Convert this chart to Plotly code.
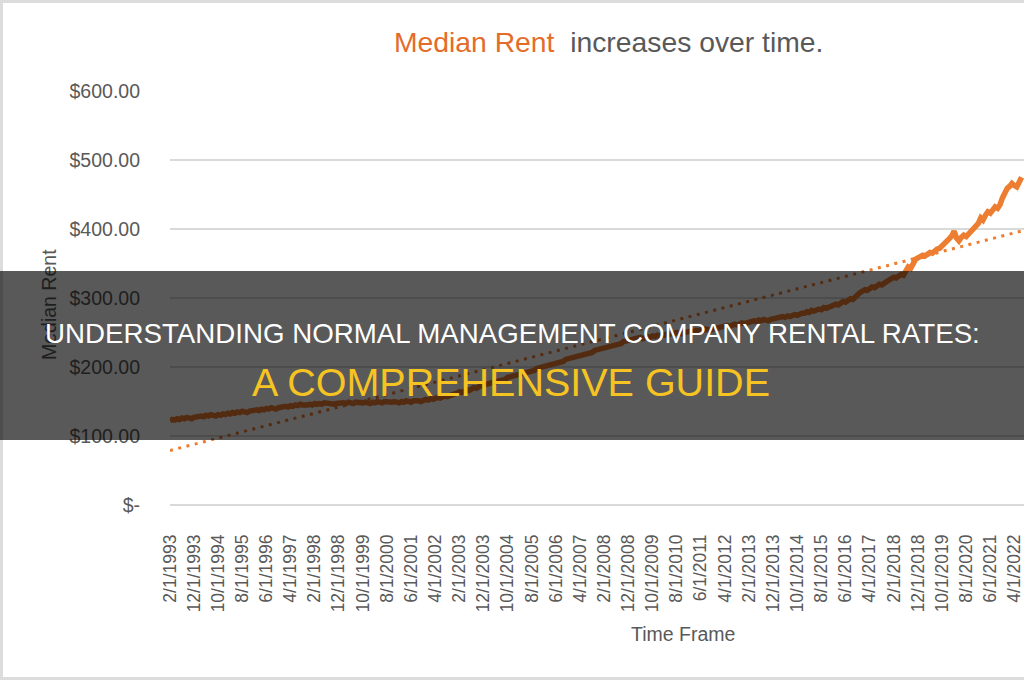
import pandas as pd
import plotly.graph_objects as go

# ---------------- data ----------------
start_month = "1993-02-01"
# Median rent, monthly, Feb 1993 .. Jul 2022
rent_1993 = [122, 124, 123, 125, 124, 126, 125, 127, 126, 125, 127]
rent_1994 = [128, 127, 129, 128, 130, 129, 131, 130, 129, 131, 130, 132]
rent_1995 = [131, 133, 132, 134, 133, 135, 134, 136, 135, 134, 136, 137]
rent_1996 = [136, 138, 137, 139, 138, 140, 139, 141, 140, 139, 141, 142]
rent_1997 = [141, 143, 142, 144, 143, 145, 144, 146, 145, 144, 145, 146]
rent_1998 = [145, 147, 146, 147, 146, 148, 147, 148, 147, 146, 147, 148]
rent_1999 = [147, 148, 147, 149, 148, 147, 149, 148, 147, 148, 149, 148]
rent_2000 = [147, 149, 148, 150, 149, 148, 150, 149, 148, 149, 150, 149]
rent_2001 = [148, 150, 149, 151, 150, 149, 151, 152, 151, 150, 152, 153]
rent_2002 = [152, 154, 153, 155, 156, 155, 157, 158, 157, 159, 160, 161]
rent_2003 = [162, 164, 163, 166, 167, 166, 169, 170, 169, 172, 173, 174]
rent_2004 = [175, 177, 176, 179, 180, 179, 182, 183, 182, 185, 186, 187]
rent_2005 = [188, 190, 189, 192, 193, 192, 195, 196, 195, 198, 199, 200]
rent_2006 = [201, 203, 202, 205, 206, 205, 208, 209, 208, 211, 212, 213]
rent_2007 = [214, 216, 215, 218, 219, 218, 221, 222, 221, 224, 225, 226]
rent_2008 = [227, 229, 228, 231, 232, 231, 234, 235, 234, 237, 238, 239]
rent_2009 = [239, 241, 240, 242, 243, 241, 243, 244, 243, 245, 244, 246]
rent_2010 = [245, 247, 246, 248, 247, 249, 248, 250, 249, 248, 250, 251]
rent_2011 = [250, 252, 251, 253, 252, 254, 253, 255, 254, 253, 255, 256]
rent_2012 = [256, 258, 257, 259, 260, 259, 261, 262, 261, 263, 264, 263]
rent_2013 = [264, 266, 265, 267, 266, 268, 267, 269, 268, 267, 269, 270]
rent_2014 = [270, 272, 271, 273, 272, 274, 273, 275, 276, 275, 277, 278]
rent_2015 = [278, 280, 279, 282, 281, 283, 284, 283, 286, 285, 287, 288]
rent_2016 = [289, 291, 290, 293, 295, 294, 297, 299, 298, 302, 305, 308]
rent_2017 = [310, 312, 311, 314, 316, 315, 318, 320, 319, 322, 324, 326]
rent_2018 = [328, 330, 329, 332, 334, 333, 338, 345, 343, 352, 356, 358]
rent_2019 = [360, 362, 361, 364, 366, 365, 369, 371, 372, 375, 378, 382]
rent_2020 = [386, 390, 397, 387, 383, 388, 391, 389, 393, 394, 398, 403]
rent_2021 = [408, 416, 413, 420, 425, 423, 428, 432, 430, 435, 445, 452]
rent_2022 = [459, 462, 466, 463, 461, 468, 475]

# dotted linear trendline, end values
trend_dates = ["1993-02-01", "2022-07-31"]
trend_values = [79, 398]

tick_labels = ["2/1/1993", "12/1/1993", "10/1/1994", "8/1/1995", "6/1/1996", "4/1/1997",
               "2/1/1998", "12/1/1998", "10/1/1999", "8/1/2000", "6/1/2001", "4/1/2002",
               "2/1/2003", "12/1/2003", "10/1/2004", "8/1/2005", "6/1/2006", "4/1/2007",
               "2/1/2008", "12/1/2008", "10/1/2009", "8/1/2010", "6/1/2011", "4/1/2012",
               "2/1/2013", "12/1/2013", "10/1/2014", "8/1/2015", "6/1/2016", "4/1/2017",
               "2/1/2018", "12/1/2018", "10/1/2019", "8/1/2020", "6/1/2021", "4/1/2022"]
y_ticks = [0, 100, 200, 300, 400, 500, 600]
y_tick_labels = ["$-", "$100.00", "$200.00", "$300.00", "$400.00", "$500.00", "$600.00"]

# ---------------- build ----------------
rent = (rent_1993 + rent_1994 + rent_1995 + rent_1996 + rent_1997 + rent_1998 + rent_1999 +
        rent_2000 + rent_2001 + rent_2002 + rent_2003 + rent_2004 + rent_2005 + rent_2006 +
        rent_2007 + rent_2008 + rent_2009 + rent_2010 + rent_2011 + rent_2012 + rent_2013 +
        rent_2014 + rent_2015 + rent_2016 + rent_2017 + rent_2018 + rent_2019 + rent_2020 +
        rent_2021 + rent_2022)
dates = pd.date_range(start_month, periods=len(rent), freq="MS")
tick_dates = [pd.to_datetime(t, format="%m/%d/%Y") for t in tick_labels]

W, H = 1024, 680
L, R, T, B = 170, 0, 91, 175
PW, PH = W - L - R, H - T - B


def px(xp):
    return (xp - L) / PW


def py(yp):
    return (H - B - yp) / PH


ORANGE = "#ED7D31"
GRAY = "#595959"
FONT = "Liberation Sans, Arial, sans-serif"

fig = go.Figure()
fig.add_trace(go.Scatter(x=dates, y=rent, mode="lines",
                         line=dict(color=ORANGE, width=5.5), hoverinfo="skip"))
fig.add_trace(go.Scatter(x=trend_dates, y=trend_values, mode="lines",
                         line=dict(color=ORANGE, width=3, dash="3px,5.5px"), hoverinfo="skip"))

fig.update_layout(
    width=W, height=H,
    margin=dict(l=L, r=R, t=T, b=B, pad=0),
    paper_bgcolor="white", plot_bgcolor="white",
    showlegend=False,
    xaxis=dict(type="date", range=["1993-02-01", "2022-07-31"],
               tickvals=tick_dates, ticktext=tick_labels, tickangle=-90,
               tickfont=dict(family=FONT, size=17.5, color=GRAY),
               showgrid=False, zeroline=False, showline=False, ticks="",
               ticklabelstandoff=25, ticklabeloverflow="allow"),
    yaxis=dict(range=[0, 600], tickvals=y_ticks, ticktext=y_tick_labels,
               tickfont=dict(family=FONT, size=19.5, color=GRAY),
               showgrid=True, gridcolor="#D9D9D9", gridwidth=2,
               zeroline=True, zerolinecolor="#D9D9D9", zerolinewidth=2,
               showline=False, ticks="", ticklabelstandoff=29),
)

annotations = [
    dict(x=px(608), y=py(42), xref="paper", yref="paper", showarrow=False,
         xanchor="center", yanchor="middle",
         text=f"<span style='color:#E46C2A'>Median Rent</span>  <span style='color:{GRAY}'>increases over time.</span>",
         font=dict(family=FONT, size=28.3, color=GRAY)),
    dict(x=px(49), y=py(305), xref="paper", yref="paper", showarrow=False,
         xanchor="center", yanchor="middle", textangle=-90,
         text="Median Rent", font=dict(family=FONT, size=19.5, color=GRAY)),
    dict(x=px(683), y=py(634), xref="paper", yref="paper", showarrow=False,
         xanchor="center", yanchor="middle",
         text="Time Frame", font=dict(family=FONT, size=19.5, color=GRAY)),
    # banner
    dict(x=px(512), y=py(355.5), xref="paper", yref="paper", showarrow=False,
         xanchor="center", yanchor="middle", text=" ", width=W, height=169,
         bgcolor="rgba(0,0,0,0.65)", borderpad=0, borderwidth=0),
    dict(x=px(512), y=py(333), xref="paper", yref="paper", showarrow=False,
         xanchor="center", yanchor="middle",
         text="UNDERSTANDING NORMAL MANAGEMENT COMPANY RENTAL RATES:",
         font=dict(family=FONT, size=27.7, color="white")),
    dict(x=px(511), y=py(382), xref="paper", yref="paper", showarrow=False,
         xanchor="center", yanchor="middle",
         text="A COMPREHENSIVE GUIDE",
         font=dict(family=FONT, size=39.5, color="#F5C423")),
]
fig.update_layout(annotations=annotations)

# light gray frame edges of the screenshot
frame = "#DCDCDC"
fig.update_layout(shapes=[
    dict(type="rect", xref="paper", yref="paper", x0=px(0), x1=px(3), y0=py(680), y1=py(0),
         fillcolor=frame, line=dict(width=0), layer="above"),
    dict(type="rect", xref="paper", yref="paper", x0=px(0), x1=px(1024), y0=py(3), y1=py(0),
         fillcolor=frame, line=dict(width=0), layer="above"),
    dict(type="rect", xref="paper", yref="paper", x0=px(0), x1=px(1024), y0=py(680), y1=py(677),
         fillcolor=frame, line=dict(width=0), layer="above"),
])

fig.write_html("out.html")
